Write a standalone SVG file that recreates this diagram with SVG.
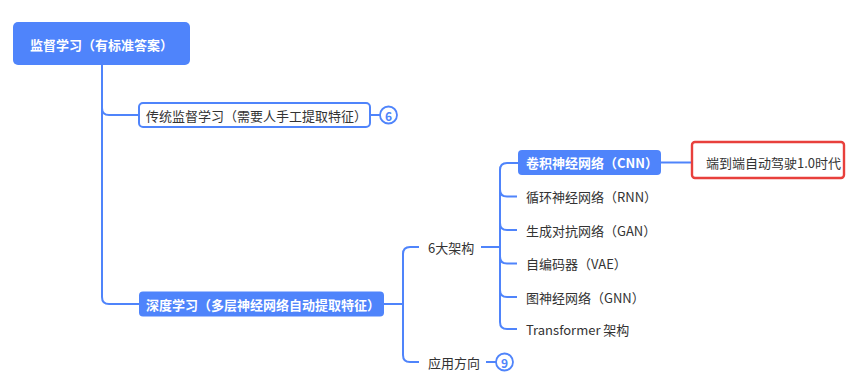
<svg xmlns="http://www.w3.org/2000/svg" width="850" height="389" viewBox="0 0 850 389">
<style>
text{font-family:"Noto Sans CJK SC","Noto Sans",sans-serif;font-size:13px;dominant-baseline:central}
.w{fill:#fff;font-weight:bold}
.d{fill:#333}
.b{fill:#4f84fb}
.c{fill:none;stroke:#4f84fb;stroke-width:2}
.badge{fill:#fff;stroke:#4f84fb;stroke-width:1.8}
.bt{fill:#4f84fb;font-size:12px;font-weight:bold;text-anchor:middle}
</style>
<rect width="850" height="389" fill="#fff"/>
<g id="connectors" class="c">
<path d="M102 65 V108 Q102 115 109 115 H139"/>
<path d="M102 108 V297 Q102 304 109 304 H139"/>
<path d="M370 115 H380"/>
<path d="M384 304 H403"/>
<path d="M419 247 H410 Q403 247 403 254 V355 Q403 362 410 362 H419"/>
<path d="M486 362 H496"/>
<path d="M481 247 H500"/>
<path d="M518 163 H507 Q500 163 500 170 V322 Q500 329 507 329 H517"/>
<path d="M500 189.5 Q500 196.5 507 196.5 H517"/>
<path d="M500 223 Q500 230 507 230 H517"/>
<path d="M500 256.5 Q500 263.5 507 263.5 H517"/>
<path d="M500 290 Q500 297 507 297 H517"/>
<path d="M661 162.5 H691"/>
</g>
<g id="root">
<rect x="13" y="22" width="177" height="43" rx="5" class="b"/>
<text x="101.5" y="44" class="w" text-anchor="middle">监督学习（有标准答案）</text>
</g>
<g id="traditional">
<rect x="139" y="103" width="231" height="24" rx="4" fill="#fff" stroke="#4f84fb" stroke-width="2"/>
<text x="146" y="115" class="d">传统监督学习（需要人手工提取特征）</text>
</g>
<g id="badge6">
<circle cx="388.5" cy="115" r="8.5" class="badge"/>
<text x="388.5" y="115" class="bt">6</text>
</g>
<g id="deep">
<rect x="139" y="291.5" width="245" height="25" rx="4" class="b"/>
<text x="146" y="304" class="w">深度学习（多层神经网络自动提取特征）</text>
</g>
<g id="arch6">
<text x="428" y="247" class="d">6大架构</text>
</g>
<g id="apps">
<text x="428" y="362" class="d">应用方向</text>
</g>
<g id="badge9">
<circle cx="504.5" cy="362" r="8.5" class="badge"/>
<text x="504.5" y="362" class="bt">9</text>
</g>
<g id="cnn">
<rect x="518" y="150" width="143" height="25" rx="4" class="b"/>
<text x="526" y="162.5" class="w">卷积神经网络（CNN）</text>
</g>
<g id="e2e">
<rect x="692" y="142" width="152" height="36" rx="3" fill="#fff" stroke="#e8403c" stroke-width="2.4"/>
<text x="706" y="162" class="d">端到端自动驾驶1.0时代</text>
</g>
<g id="rnn"><text x="526" y="196.5" class="d">循环神经网络（RNN）</text></g>
<g id="gan"><text x="526" y="230" class="d">生成对抗网络（GAN）</text></g>
<g id="vae"><text x="526" y="263.5" class="d">自编码器（VAE）</text></g>
<g id="gnn"><text x="526" y="297" class="d">图神经网络（GNN）</text></g>
<g id="transformer"><text x="526" y="329.5" class="d">Transformer 架构</text></g>
</svg>
